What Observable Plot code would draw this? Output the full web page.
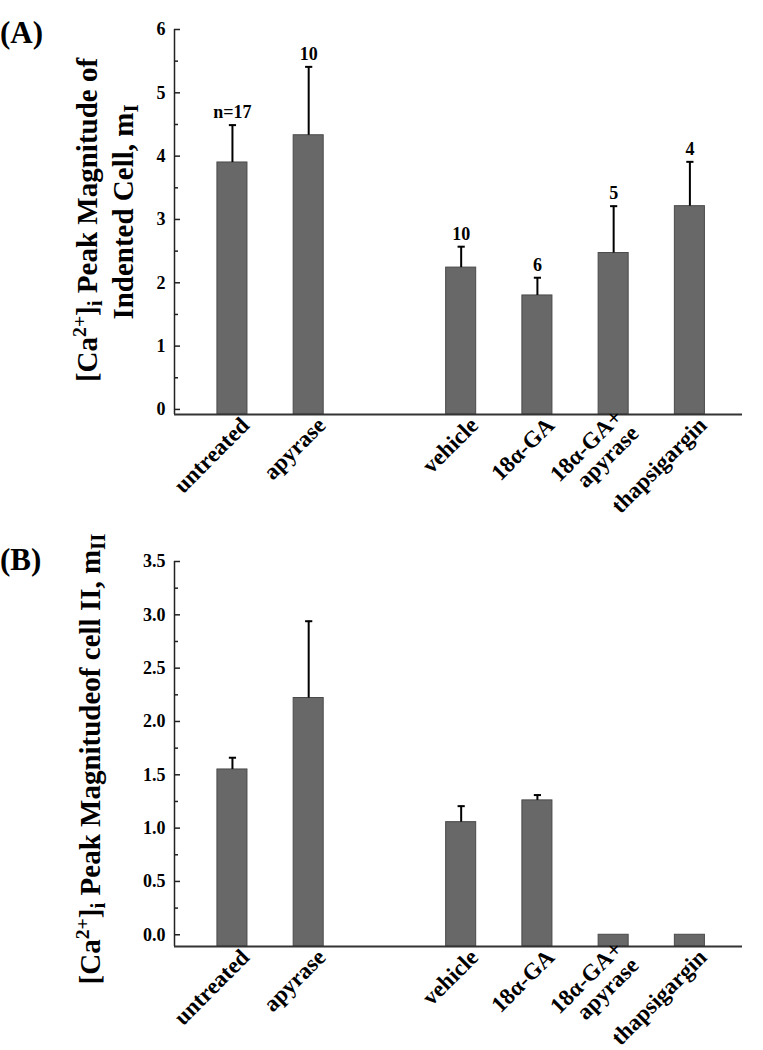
<!DOCTYPE html>
<html><head><meta charset="utf-8">
<script src="https://cdn.jsdelivr.net/npm/d3@7"></script>
<script src="https://cdn.jsdelivr.net/npm/@observablehq/plot@0.6"></script>
<style>
body{margin:0;background:#fff;}
#wrap{position:relative;width:763px;height:1050px;background:#fff;}
#wrap svg{display:block;}
</style></head><body><div id="wrap"></div>
<script>
// ---- data ----
const categories = ["untreated", "apyrase", "vehicle", "18α-GA", "18α-GA+\napyrase", "thapsigargin"];
const positions = [1, 2, 4, 5, 6, 7];
const meanA = [3.90, 4.33, 2.24, 1.80, 2.47, 3.21];
const errA = [0.59, 1.08, 0.33, 0.28, 0.74, 0.70];
const countA = ["n=17", "10", "10", "6", "5", "4"];
const meanB = [1.55, 2.22, 1.056, 1.26, 0, 0];
const errB = [0.11, 0.72, 0.15, 0.05, 0, 0];
const majorA = [0, 1, 2, 3, 4, 5, 6];
const minorA = [0.5, 1.5, 2.5, 3.5, 4.5, 5.5];
const majorB = [0, 0.5, 1, 1.5, 2, 2.5, 3, 3.5];
const minorB = [0.25, 0.75, 1.25, 1.75, 2.25, 2.75, 3.25];

const FONT = '"Liberation Serif", "Times New Roman", serif';
const W = 763, mL = 174, mR = 21, innerW = W - mL - mR;
const xDomain = [0.24, 7.69];

const capSymbol = {
  draw(context, size) {
    const r = Math.sqrt(size / Math.PI);
    context.moveTo(-r, 0);
    context.lineTo(r, 0);
  }
};

function panel({means, errs, counts, yDomain, major, minor, fmt, height, marginTop, marginBottom}) {
  const data = categories.map((c, i) => ({
    cat: c, pos: positions[i], mean: means[i], err: errs[i],
    top: means[i] + errs[i], n: counts ? counts[i] : ""
  }));
  const withErr = data.filter(d => d.err > 0);
  const y0 = yDomain[0];
  return Plot.plot({
    width: W, height, marginLeft: mL, marginRight: mR, marginTop, marginBottom,
    style: {fontFamily: FONT, background: "white", overflow: "visible", color: "#000"},
    x: {domain: xDomain, axis: null},
    y: {domain: yDomain, axis: null},
    marks: [
      Plot.rectY(data, {x1: d => d.pos - 0.197, x2: d => d.pos + 0.197, y1: y0, y2: "mean",
        fill: "#686868", stroke: "#4a4a4a", strokeWidth: 1}),
      Plot.ruleX(withErr, {x: "pos", y1: "mean", y2: "top", stroke: "#000", strokeWidth: 2}),
      Plot.dot(withErr, {x: "pos", y: "top", symbol: capSymbol, r: 3.6, stroke: "#000", strokeWidth: 2, fill: "none"}),
      counts ? Plot.text(data, {x: "pos", y: "top", text: "n", dy: -7, lineAnchor: "bottom",
        fontSize: 18, fontWeight: "bold", fill: "#000"}) : null,
      Plot.ruleX([xDomain[0]], {y1: y0, y2: yDomain[1], stroke: "#222", strokeWidth: 1.5}),
      Plot.ruleY([y0], {stroke: "#333", strokeWidth: 2}),
      Plot.tickY(major, {y: d => d, insetRight: innerW - 6, stroke: "#222", strokeWidth: 1.5}),
      Plot.tickY(minor, {y: d => d, insetRight: innerW - 4, stroke: "#222", strokeWidth: 1.5}),
      Plot.axisY({ticks: major, tickSize: 0, tickPadding: 9, tickFormat: fmt, label: null,
        fontSize: 18, fontWeight: "bold", fill: "#000"}),
      Plot.axisX({ticks: positions, tickFormat: d => categories[positions.indexOf(d)], tickRotate: -45,
        tickSize: 0, tickPadding: 7, dx: 13, label: null, fontSize: 23, fontWeight: "bold", fill: "#000"})
    ]
  });
}

function addText(svg, {x, y, rotate = 0, size, parts, anchor = "middle"}) {
  const t = d3.select(svg).append("text")
    .attr("transform", `translate(${x},${y}) rotate(${rotate})`)
    .attr("text-anchor", anchor)
    .attr("font-family", FONT)
    .attr("font-weight", "bold")
    .attr("font-size", size)
    .attr("fill", "#000");
  for (const [str, kind] of parts) {
    const ts = t.append("tspan").text(str);
    if (kind === "sup") ts.attr("font-size", "68%").attr("baseline-shift", "55%");
    else if (kind === "sub") ts.attr("font-size", "72%").attr("baseline-shift", "-25%");
  }
}

const wrap = document.getElementById("wrap");

const chartA = panel({means: meanA, errs: errA, counts: countA, yDomain: [-0.08, 6],
  major: majorA, minor: minorA, fmt: d3.format("d"), height: 530, marginTop: 29, marginBottom: 116});
wrap.appendChild(chartA);
addText(chartA, {x: 0, y: 43, size: 31, anchor: "start", parts: [["(A)", "n"]]});
addText(chartA, {x: 97, y: 220, rotate: -90, size: 29, parts: [["[Ca", "n"], ["2+", "sup"], ["]", "n"], ["i", "sub"], [" Peak Magnitude of", "n"]]});
addText(chartA, {x: 133, y: 212, rotate: -90, size: 29, parts: [["Indented Cell, m", "n"], ["I", "sub"]]});

const chartB = panel({means: meanB, errs: errB, counts: null, yDomain: [-0.11, 3.5],
  major: majorB, minor: minorB, fmt: d3.format(".1f"), height: 520, marginTop: 31, marginBottom: 104});
wrap.appendChild(chartB);
addText(chartB, {x: 0, y: 40, size: 31, anchor: "start", parts: [["(B)", "n"]]});
addText(chartB, {x: 100, y: 229, rotate: -90, size: 29, parts: [["[Ca", "n"], ["2+", "sup"], ["]", "n"], ["i", "sub"], [" Peak Magnitudeof cell II, m", "n"], ["II", "sub"]]});
</script>
</body></html>
